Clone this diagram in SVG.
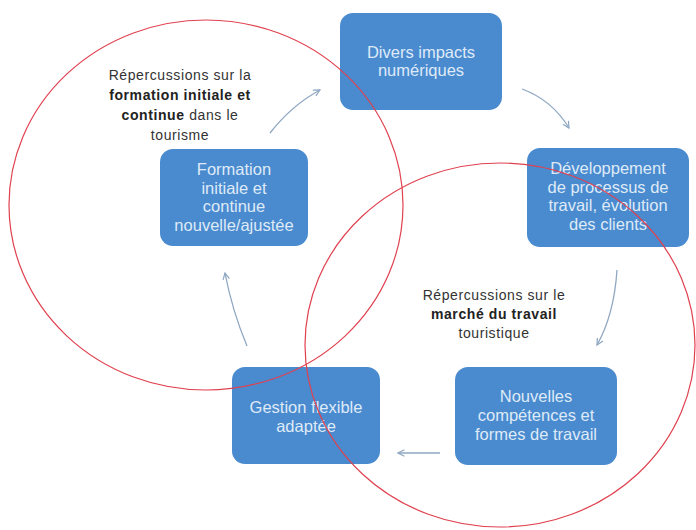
<svg xmlns="http://www.w3.org/2000/svg" width="696" height="530" viewBox="0 0 696 530">
<defs>
<style>
.box{fill:#4a8bcf;}
.bt{font-family:"Liberation Sans",Arial,sans-serif;font-size:16.5px;fill:#dfeaf7;text-anchor:middle;}
.lb{font-family:"Liberation Sans",Arial,sans-serif;font-size:14px;fill:#333;text-anchor:middle;letter-spacing:0.6px;}
.lb .b{font-weight:bold;fill:#222;}
.conn{fill:none;stroke:#8fa7c2;stroke-width:1.3;marker-end:url(#ah);}
.ring{fill:none;stroke:#e0414f;stroke-width:1.2;}
</style>
<marker id="ah" viewBox="0 0 10 10" refX="9" refY="5" markerWidth="8" markerHeight="8" markerUnits="userSpaceOnUse" orient="auto">
<path d="M1,1 L9,5 L1,9" fill="none" stroke="#8fa7c2" stroke-width="1.5"/>
</marker>
</defs>
<rect width="696" height="530" fill="#ffffff"/>
<g id="connectors">
<path class="conn" d="M522,89 Q552,100 569,128"/>
<path class="conn" d="M617,270 Q614,315 597,345"/>
<path class="conn" d="M440,453 L398,453"/>
<path class="conn" d="M247,346 Q232,310 225,273"/>
<path class="conn" d="M270,133 Q292,105 320,90"/>
</g>
<g id="node-divers">
<rect class="box" x="340" y="13" width="162" height="97" rx="13"/>
<text class="bt" x="421" y="58">Divers impacts</text>
<text class="bt" x="421" y="76">numériques</text>
</g>
<g id="node-developpement">
<rect class="box" x="527" y="148" width="162" height="99" rx="13"/>
<text class="bt" x="608" y="174">Développement</text>
<text class="bt" x="608" y="192.5">de processus de</text>
<text class="bt" x="608" y="211">travail, évolution</text>
<text class="bt" x="608" y="229.5">des clients</text>
</g>
<g id="node-nouvelles">
<rect class="box" x="455" y="367" width="162" height="98" rx="13"/>
<text class="bt" x="536" y="402">Nouvelles</text>
<text class="bt" x="536" y="421">compétences et</text>
<text class="bt" x="536" y="440">formes de travail</text>
</g>
<g id="node-gestion">
<rect class="box" x="232" y="367" width="148" height="97" rx="13"/>
<text class="bt" x="306" y="413">Gestion flexible</text>
<text class="bt" x="306" y="432">adaptée</text>
</g>
<g id="node-formation">
<rect class="box" x="160" y="149" width="148" height="97" rx="13"/>
<text class="bt" x="234" y="175">Formation</text>
<text class="bt" x="234" y="193.5">initiale et</text>
<text class="bt" x="234" y="212">continue</text>
<text class="bt" x="234" y="230.5">nouvelle/ajustée</text>
</g>
<g id="label-formation">
<text class="lb" x="180" y="80">Répercussions sur la</text>
<text class="lb" x="180" y="100"><tspan class="b">formation initiale et</tspan></text>
<text class="lb" x="180" y="120"><tspan class="b">continue</tspan> dans le</text>
<text class="lb" x="180" y="140">tourisme</text>
</g>
<g id="label-marche">
<text class="lb" x="494" y="300">Répercussions sur le</text>
<text class="lb" x="494" y="319"><tspan class="b">marché du travail</tspan></text>
<text class="lb" x="494" y="338">touristique</text>
</g>
<g id="rings">
<ellipse class="ring" cx="206" cy="205" rx="197" ry="185"/>
<ellipse class="ring" cx="500" cy="345" rx="195" ry="182"/>
</g>
</svg>
